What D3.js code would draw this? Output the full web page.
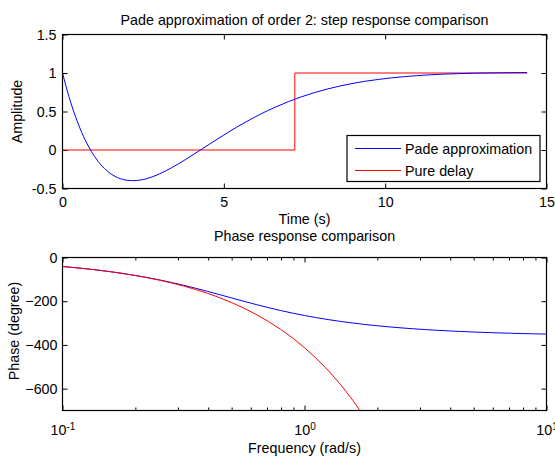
<!DOCTYPE html>
<html><head><meta charset="utf-8">
<script src="https://cdn.jsdelivr.net/npm/d3@7"></script>
<style>
body{margin:0;background:#fff;}
svg{display:block;font-family:"Liberation Sans",Arial,sans-serif;}
</style></head>
<body>
<svg id="chart" width="555" height="456"></svg>
<script>
// ---- data ----
const stepTime = [0,0.2,0.4,0.6,0.8,1.0,1.2,1.4,1.6,1.8,2.0,2.2,2.4,2.6,2.8,3.0,3.4,3.8,4.2,4.6,5.0,5.4,5.8,6.2,6.6,7.0,7.4,7.8,8.2,8.6,9.0,9.4,9.8,10.2,10.6,11.0,11.4,11.8,12.2,12.6,13.0,13.4,13.8,14.2,14.4];
const padeStep = [1,0.693,0.437,0.224,0.051,-0.088,-0.196,-0.278,-0.336,-0.373,-0.393,-0.398,-0.391,-0.373,-0.346,-0.311,-0.226,-0.127,-0.020,0.088,0.195,0.297,0.391,0.479,0.557,0.628,0.690,0.744,0.791,0.831,0.865,0.894,0.917,0.937,0.953,0.966,0.977,0.985,0.991,0.996,1.000,1.002,1.004,1.005,1.005];
const delayTime = [0,7.2,7.2,14.4];
const delayStep = [0,0,1,1];
const freq = [0.1,0.1122,0.1259,0.1413,0.1585,0.1778,0.1995,0.2239,0.2512,0.2818,0.3162,0.3548,0.3981,0.4467,0.5012,0.5623,0.6310,0.7079,0.7943,0.8913,1.0,1.122,1.259,1.413,1.585,1.778,1.995,2.239,2.512,2.818,3.162,3.548,3.981,4.467,5.012,5.623,6.310,7.079,7.943,8.913,10];
const padePhase = [-41.3,-46.2,-51.9,-58.2,-65.2,-73.1,-81.9,-91.6,-102.4,-114.2,-127.0,-140.7,-155.2,-170.2,-185.4,-200.5,-215.2,-229.1,-242.2,-254.3,-265.4,-275.4,-284.4,-292.6,-299.8,-306.4,-312.2,-317.4,-322.0,-326.1,-329.8,-333.1,-336.0,-338.6,-340.9,-343.0,-344.9,-346.5,-348.0,-349.3,-350.5];
const delayPhase = [-41.3,-46.3,-51.9,-58.3,-65.4,-73.4,-82.3,-92.4,-103.6,-116.3,-130.5,-146.4,-164.2,-184.3,-206.8,-232.0,-260.3,-292.1,-327.7,-367.7,-412.5,-462.9,-519.3,-582.7,-653.8,-733.6];
const stepXTicks = [0,5,10,15];
const stepYTicks = [-0.5,0,0.5,1,1.5];
const phaseYTicks = [0,-200,-400,-600];
const freqMajor = [0.1,1,10];
const freqMinor = [0.2,0.3,0.4,0.5,0.6,0.7,0.8,0.9,2,3,4,5,6,7,8,9];
const legendLabels = ["Pade approximation","Pure delay"];
const colors = ["#0000ff","#ff0000"];

// ---- layout ----
const svg = d3.select("#chart");
const FS = 14.3;
const L = 62.5, R = 546.5;
const p1 = {top:34.5, bottom:188.5};
const p2 = {top:257.5, bottom:410.5};

function styleAxis(g){
  g.select(".domain").remove();
  g.selectAll("line").attr("stroke","#000").attr("stroke-width",1);
  g.selectAll("text").attr("font-size",FS).attr("fill","#000").attr("font-family","Liberation Sans, Arial, sans-serif");
}

// ---- top plot ----
const x1 = d3.scaleLinear().domain([0,15]).range([L,R]);
const y1 = d3.scaleLinear().domain([-0.5,1.5]).range([p1.bottom,p1.top]);

svg.append("clipPath").attr("id","c1").append("rect")
  .attr("x",L).attr("y",p1.top).attr("width",R-L).attr("height",p1.bottom-p1.top);

svg.append("g").attr("transform",`translate(0,${p1.bottom})`)
  .call(d3.axisBottom(x1).tickValues(stepXTicks).tickSize(-5).tickPadding(8).tickFormat(d3.format("d"))).call(styleAxis);
svg.append("g").attr("transform",`translate(0,${p1.top})`)
  .call(d3.axisTop(x1).tickValues(stepXTicks).tickSize(-5).tickFormat("")).call(styleAxis);
svg.append("g").attr("transform",`translate(${L},0)`)
  .call(d3.axisLeft(y1).tickValues(stepYTicks).tickSize(-5).tickPadding(6).tickFormat(d=>String(d))).call(styleAxis);
svg.append("g").attr("transform",`translate(${R},0)`)
  .call(d3.axisRight(y1).tickValues(stepYTicks).tickSize(-5).tickFormat("")).call(styleAxis);

const stepPade = stepTime.map((t,i)=>[t,padeStep[i]]);
const stepDelay = delayTime.map((t,i)=>[t,delayStep[i]]);
const line1 = d3.line().x(d=>x1(d[0])).y(d=>y1(d[1]));
svg.append("path").datum(stepDelay).attr("clip-path","url(#c1)")
  .attr("d",line1).attr("fill","none").attr("stroke",colors[1]).attr("stroke-width",1);
svg.append("path").datum(stepPade).attr("clip-path","url(#c1)")
  .attr("d",line1.curve(d3.curveMonotoneX)).attr("fill","none").attr("stroke",colors[0]).attr("stroke-width",1);

svg.append("rect").attr("x",L).attr("y",p1.top).attr("width",R-L).attr("height",p1.bottom-p1.top)
  .attr("fill","none").attr("stroke","#000").attr("stroke-width",1.2);

// legend
const lg = svg.append("g");
lg.append("rect").attr("x",347).attr("y",135.5).attr("width",193).attr("height",46)
  .attr("fill","#fff").attr("stroke","#000").attr("stroke-width",1.2);
legendLabels.forEach((lab,i)=>{
  const yy = 148.5 + i*22;
  lg.append("line").attr("x1",355).attr("x2",401).attr("y1",yy).attr("y2",yy)
    .attr("stroke",colors[i]).attr("stroke-width",1);
  lg.append("text").attr("x",405).attr("y",yy+5).attr("font-size",FS).text(lab);
});

// titles
const cx = (L+R)/2;
svg.append("text").attr("x",cx).attr("y",25).attr("text-anchor","middle").attr("font-size",FS)
  .text("Pade approximation of order 2: step response comparison");
svg.append("text").attr("x",cx).attr("y",223.5).attr("text-anchor","middle").attr("font-size",FS).text("Time (s)");
svg.append("text").attr("transform",`translate(21.5,${(p1.top+p1.bottom)/2}) rotate(-90)`)
  .attr("text-anchor","middle").attr("font-size",FS).text("Amplitude");

// ---- bottom plot ----
const x2 = d3.scaleLog().domain([0.1,10]).range([L,R]);
const y2 = d3.scaleLinear().domain([-700,0]).range([p2.bottom,p2.top]);

svg.append("clipPath").attr("id","c2").append("rect")
  .attr("x",L).attr("y",p2.top).attr("width",R-L).attr("height",p2.bottom-p2.top);

svg.append("g").attr("transform",`translate(0,${p2.bottom})`)
  .call(d3.axisBottom(x2).tickValues(freqMinor).tickSize(-3).tickFormat("")).call(styleAxis);
svg.append("g").attr("transform",`translate(0,${p2.top})`)
  .call(d3.axisTop(x2).tickValues(freqMinor).tickSize(-3).tickFormat("")).call(styleAxis);
svg.append("g").attr("transform",`translate(0,${p2.top})`)
  .call(d3.axisTop(x2).tickValues(freqMajor).tickSize(-5).tickFormat("")).call(styleAxis);
const xb = svg.append("g").attr("transform",`translate(0,${p2.bottom})`)
  .call(d3.axisBottom(x2).tickValues(freqMajor).tickSize(-5).tickPadding(14).tickFormat(()=>"10")).call(styleAxis);
xb.selectAll(".tick text").each(function(d){
  d3.select(this).append("tspan").attr("dy","-0.45em").attr("font-size",10).text(Math.round(Math.log10(d)));
});
svg.append("g").attr("transform",`translate(${L},0)`)
  .call(d3.axisLeft(y2).tickValues(phaseYTicks).tickSize(-5).tickPadding(5)).call(styleAxis);
svg.append("g").attr("transform",`translate(${R},0)`)
  .call(d3.axisRight(y2).tickValues(phaseYTicks).tickSize(-5).tickFormat("")).call(styleAxis);

const line2 = d3.line().x(d=>x2(d[0])).y(d=>y2(d[1]));
svg.append("path").datum(freq.map((f,i)=>[f,padePhase[i]])).attr("clip-path","url(#c2)")
  .attr("d",line2).attr("fill","none").attr("stroke",colors[0]).attr("stroke-width",1);
svg.append("path").datum(delayPhase.map((p,i)=>[freq[i],p])).attr("clip-path","url(#c2)")
  .attr("d",line2).attr("fill","none").attr("stroke",colors[1]).attr("stroke-width",1);

svg.append("rect").attr("x",L).attr("y",p2.top).attr("width",R-L).attr("height",p2.bottom-p2.top)
  .attr("fill","none").attr("stroke","#000").attr("stroke-width",1.2);

svg.append("text").attr("x",cx).attr("y",241).attr("text-anchor","middle").attr("font-size",FS).text("Phase response comparison");
svg.append("text").attr("x",cx).attr("y",452.5).attr("text-anchor","middle").attr("font-size",FS).text("Frequency (rad/s)");
svg.append("text").attr("transform",`translate(18.5,${(p2.top+p2.bottom)/2 - 3}) rotate(-90)`)
  .attr("text-anchor","middle").attr("font-size",FS).text("Phase (degree)");
</script>
</body></html>
